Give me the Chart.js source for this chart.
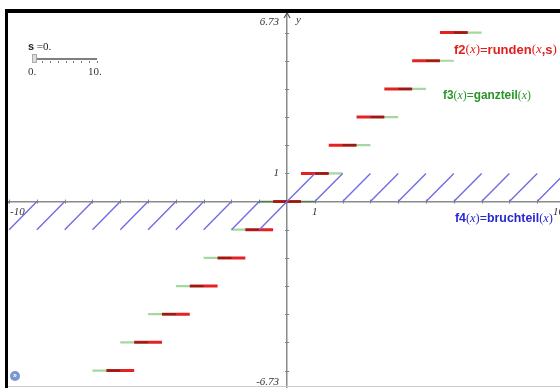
<!DOCTYPE html>
<html><head><meta charset="utf-8">
<script src="https://cdn.jsdelivr.net/npm/chart.js@4.4.1/dist/chart.umd.min.js"></script>
<style>html,body{margin:0;padding:0;background:#fff;}#wrap{position:relative;width:560px;height:388px;}canvas{display:block;}</style>
</head><body><div id="wrap"><canvas id="c" width="560" height="388"></canvas></div>
<script>
// graph window
const xWindow = [-10.04, 9.82];
const yWindow = [-6.62, 6.73];
const yWindowLabels = ['6.73', '-6.73'];
const xAxisLabelValues = [-10, 1, 10];
const xAxisLabels = ['-10', '1', '10'];
const yAxisLabelValues = [1];
const yAxisLabels = ['1'];
const xTickValues = [-10,-9,-8,-7,-6,-5,-4,-3,-2,-1,1,2,3,4,5,6,7,8,9];
const yTickValues = [-6,-5,-4,-3,-2,-1,1,2,3,4,5,6];

// f2(x)=runden(x,s), s=0 : horizontal steps
const rundenY      = [-6,-5,-4,-3,-2,-1,0,1,2,3,4,5,6];
const rundenStartX = [-6.5,-5.5,-4.5,-3.5,-2.5,-1.5,-0.5,0.5,1.5,2.5,3.5,4.5,5.5];
const rundenEndX   = [-5.5,-4.5,-3.5,-2.5,-1.5,-0.5,0.5,1.5,2.5,3.5,4.5,5.5,6.5];

// f3(x)=ganzteil(x) : horizontal steps
const ganzteilY      = [-6,-5,-4,-3,-2,-1,0,1,2,3,4,5,6];
const ganzteilStartX = [-7,-6,-5,-4,-3,-2,-1,1,2,3,4,5,6];
const ganzteilEndX   = [-6,-5,-4,-3,-2,-1,1,2,3,4,5,6,7];

// f4(x)=bruchteil(x) : sawtooth segments
const bruchteilStartX = [-11,-10,-9,-8,-7,-6,-5,-4,-3,-2,-1,0,1,2,3,4,5,6,7,8,9];
const bruchteilStartY = [-1,-1,-1,-1,-1,-1,-1,-1,-1,-1,-1,0,0,0,0,0,0,0,0,0,0];
const bruchteilEndX   = [-10,-9,-8,-7,-6,-5,-4,-3,-2,-1,0,1,2,3,4,5,6,7,8,9,10];
const bruchteilEndY   = [0,0,0,0,0,0,0,0,0,0,0,1,1,1,1,1,1,1,1,1,1];

// slider s
const sliderValue = 0;
const sliderMin = 0;
const sliderMax = 10;

function segs(x1s, y1s, x2s, y2s) {
  const out = [];
  for (let i = 0; i < x1s.length; i++) {
    out.push({x: x1s[i], y: y1s[i]});
    out.push({x: x2s[i], y: y2s[i]});
    out.push({x: x2s[i], y: null});
  }
  return out;
}

const RED = 'rgb(228,34,34)';
const GREEN_LINE = 'rgb(165,215,160)';
const BLUE_LINE = 'rgb(110,110,228)';

const multiplyPlugin = {
  id: 'mult',
  beforeDatasetDraw(chart, args) {
    if (chart.data.datasets[args.index].label === 'f3') {
      chart.ctx.save();
      chart.ctx.globalCompositeOperation = 'multiply';
    }
  },
  afterDatasetDraw(chart, args) {
    if (chart.data.datasets[args.index].label === 'f3') chart.ctx.restore();
  }
};

const FONTS = {
  b: s => `bold ${s}px "Liberation Sans", Arial, sans-serif`,
  s: s => `${s}px "Liberation Sans", Arial, sans-serif`,
  i: s => `italic ${s}px "Liberation Serif", "Times New Roman", serif`,
  n: s => `${s}px "Liberation Serif", "Times New Roman", serif`
};
function drawRich(ctx, parts, x, y, color, size, targetW) {
  let w = 0;
  parts.forEach(p => { ctx.font = FONTS[p[1]](size); w += ctx.measureText(p[0]).width; });
  if (targetW) size = size * targetW / w;
  ctx.fillStyle = color; ctx.textBaseline = 'middle'; ctx.textAlign = 'left';
  let cx = x;
  parts.forEach(p => { ctx.font = FONTS[p[1]](size); ctx.fillText(p[0], cx, y); cx += ctx.measureText(p[0]).width; });
}

const decoPlugin = {
  id: 'deco',
  beforeDraw(chart) {
    const ctx = chart.ctx;
    ctx.save(); ctx.fillStyle = '#fff'; ctx.fillRect(0, 0, chart.width, chart.height); ctx.restore();
  },
  beforeDatasetsDraw(chart) {
    const ctx = chart.ctx, xs = chart.scales.x, ys = chart.scales.y;
    const ox = xs.getPixelForValue(0), oy = ys.getPixelForValue(0);
    ctx.save();
    ctx.strokeStyle = '#808080'; ctx.lineWidth = 1;
    xTickValues.forEach(v => { const px = Math.round(xs.getPixelForValue(v)) + 0.5; ctx.beginPath(); ctx.moveTo(px, oy - 2); ctx.lineTo(px, oy + 2); ctx.stroke(); });
    yTickValues.forEach(v => { const py = Math.round(ys.getPixelForValue(v)) + 0.5; ctx.beginPath(); ctx.moveTo(ox - 2, py); ctx.lineTo(ox + 2, py); ctx.stroke(); });
    // arrow on y axis
    ctx.lineWidth = 1.2; ctx.strokeStyle = '#555';
    const top = ys.top + 1;
    ctx.beginPath(); ctx.moveTo(ox - 3, top + 5); ctx.lineTo(ox, top); ctx.lineTo(ox + 3, top + 5); ctx.stroke();
    ctx.restore();
  },
  afterDatasetsDraw(chart) {
    const ctx = chart.ctx, xs = chart.scales.x, ys = chart.scales.y;
    const ox = xs.getPixelForValue(0), oy = ys.getPixelForValue(0);
    ctx.save();
    // axis labels
    ctx.fillStyle = '#333'; ctx.font = 'italic 11px "Liberation Serif", serif'; ctx.textBaseline = 'middle';
    ctx.textAlign = 'right';
    ctx.fillText(yWindowLabels[0], ox - 8, ys.top + 10);
    ctx.fillText(yWindowLabels[1], ox - 8, ys.bottom - 6);
    yAxisLabelValues.forEach((v, i) => ctx.fillText(yAxisLabels[i], ox - 8, ys.getPixelForValue(v)));
    ctx.textAlign = 'left';
    ctx.fillText('y', ox + 9, ys.top + 8);
    xAxisLabelValues.forEach((v, i) => {
      let px = xs.getPixelForValue(v);
      if (px - 6 < xs.left) { ctx.textAlign = 'left'; px = xs.left + 2; }
      else if (px + 6 > xs.right) { ctx.textAlign = 'left'; px = xs.right - 7; }
      else ctx.textAlign = 'center';
      ctx.fillText(xAxisLabels[i], px, oy + 11);
    });
    // function labels
    drawRich(ctx, [['f2','b'],['(','n'],['x','i'],[')','n'],['=','s'],['runden','b'],['(','n'],['x','i'],[',','b'],['s','b'],[')','n']], 454, 50, 'rgb(225,30,30)', 12, 103);
    drawRich(ctx, [['f3','b'],['(','n'],['x','i'],[')','n'],['=','s'],['ganzteil','b'],['(','n'],['x','i'],[')','n']], 443, 96, 'rgb(40,150,40)', 12, 88);
    drawRich(ctx, [['f4','b'],['(','n'],['x','i'],[')','n'],['=','s'],['bruchteil','b'],['(','n'],['x','i'],[')','n']], 455, 219, 'rgb(40,40,210)', 12, 98);
    // slider
    drawRich(ctx, [['s','b'],[' =' + sliderValue + '.','n']], 28, 47, '#222', 11);
    const sx0 = 34, sx1 = 97, sy = 59;
    ctx.strokeStyle = '#555'; ctx.lineWidth = 1.5;
    ctx.beginPath(); ctx.moveTo(sx0, sy); ctx.lineTo(sx1, sy); ctx.stroke();
    ctx.lineWidth = 1; ctx.strokeStyle = '#777';
    for (let k = 0; k <= 8; k++) { const tx = Math.round(sx0 + (sx1 - sx0) * k / 8) + 0.5; ctx.beginPath(); ctx.moveTo(tx, sy + 2); ctx.lineTo(tx, sy + 4); ctx.stroke(); }
    const hx = sx0 + (sx1 - sx0) * (sliderValue - sliderMin) / (sliderMax - sliderMin);
    ctx.fillStyle = '#ddd'; ctx.strokeStyle = '#aaa'; ctx.fillRect(hx - 2, sy - 5, 4, 8); ctx.strokeRect(hx - 2 + 0.5, sy - 5 + 0.5, 4, 8);
    ctx.fillStyle = '#333'; ctx.font = '11px "Liberation Serif", serif'; ctx.textBaseline = 'middle'; ctx.textAlign = 'left';
    ctx.fillText(sliderMin + '.', 28, 72); ctx.fillText(sliderMax + '.', 88, 72);
    // icon
    ctx.fillStyle = 'rgb(120,150,210)'; ctx.beginPath(); ctx.arc(15, 376, 5, 0, Math.PI * 2); ctx.fill();
    ctx.fillStyle = '#fff'; ctx.font = 'bold 7px sans-serif'; ctx.textAlign = 'center'; ctx.fillText('»', 15, 376);
    ctx.restore();
  },
  afterDraw(chart) {
    const ctx = chart.ctx;
    ctx.save();
    ctx.fillStyle = '#fff'; ctx.fillRect(0, 0, chart.width, 9); ctx.fillRect(0, 0, 5, chart.height);
    ctx.fillStyle = '#000'; ctx.fillRect(5, 9, chart.width - 5, 4); ctx.fillRect(5, 9, 3, chart.height - 9);
    ctx.fillStyle = '#ccc'; ctx.fillRect(8, 386, chart.width - 8, 1);
    ctx.restore();
  }
};

new Chart(document.getElementById('c'), {
  type: 'scatter',
  data: {
    datasets: [
      { label: 'f2', data: segs(rundenStartX, rundenY, rundenEndX, rundenY), showLine: true, borderColor: RED, borderWidth: 3, pointRadius: 0, spanGaps: false, order: 2, borderCapStyle: 'butt' },
      { label: 'f3', data: segs(ganzteilStartX, ganzteilY, ganzteilEndX, ganzteilY), showLine: true, borderColor: GREEN_LINE, borderWidth: 2.2, pointRadius: 0, spanGaps: false, order: 1 },
      { label: 'f4', data: segs(bruchteilStartX, bruchteilStartY, bruchteilEndX, bruchteilEndY), showLine: true, borderColor: BLUE_LINE, borderWidth: 1.4, pointRadius: 0, spanGaps: false, order: 0 }
    ]
  },
  options: {
    responsive: false, animation: false, devicePixelRatio: 1,
    layout: { padding: { left: 8, top: 12, right: 0, bottom: 0 } },
    plugins: { legend: { display: false }, tooltip: { enabled: false } },
    scales: {
      x: { type: 'linear', min: xWindow[0], max: xWindow[1], position: { y: 0 }, grid: { display: false }, ticks: { display: false }, border: { display: true, color: '#8a8a8a', width: 1.5 } },
      y: { type: 'linear', min: yWindow[0], max: yWindow[1], position: { x: 0 }, grid: { display: false }, ticks: { display: false }, border: { display: true, color: '#8a8a8a', width: 1.5 } }
    }
  },
  plugins: [multiplyPlugin, decoPlugin]
});
</script></body></html>
